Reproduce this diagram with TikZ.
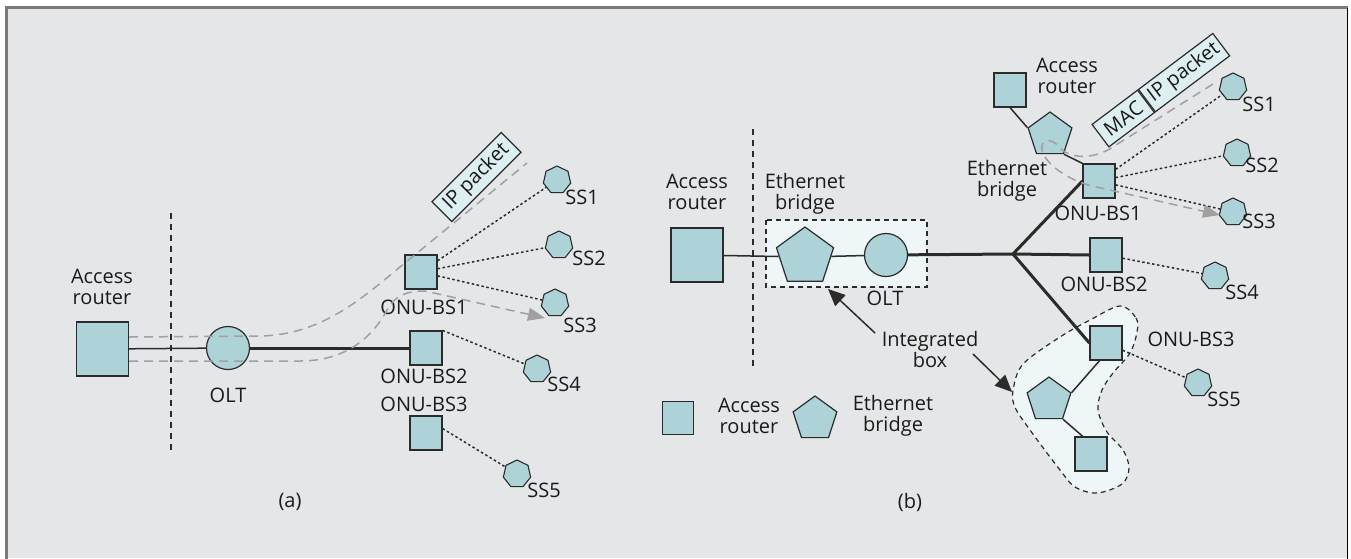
\documentclass[tikz,border=0pt]{standalone}
\usepackage{fontspec}
\setmainfont{Open Sans}
\usetikzlibrary{shapes.geometric,arrows.meta,calc}
\definecolor{bg}{HTML}{E5E6E8}
\definecolor{nodefill}{HTML}{ADD3D8}
\definecolor{edge}{HTML}{2B2B2B}
\definecolor{txt}{HTML}{1A1A1A}
\definecolor{pktfill}{HTML}{DDEFF1}
\definecolor{intfill}{HTML}{EEF6F8}
\definecolor{pathgray}{HTML}{A0A0A0}
\definecolor{framegray}{HTML}{7A7A7A}
\begin{document}
\begin{tikzpicture}[x=1pt,y=-1pt,
  font=\fontsize{20}{21}\selectfont,
  every node/.style={text=txt},
  sq/.style={draw=edge, fill=nodefill, line width=1.2pt, inner sep=0pt, minimum width=32pt, minimum height=34pt},
  bigsq/.style={sq, minimum width=52pt, minimum height=54pt},
  pent/.style={regular polygon, regular polygon sides=5, draw=edge, fill=nodefill, line width=1.2pt, inner sep=0pt, minimum size=46pt},
  bigpent/.style={pent, minimum size=60pt},
  hept/.style={regular polygon, regular polygon sides=7, draw=edge, fill=nodefill, line width=1.1pt, inner sep=0pt, minimum size=28pt},
  oltc/.style={circle, draw=edge, fill=nodefill, line width=1.2pt, inner sep=0pt, minimum size=43pt},
  lbl/.style={align=center, inner sep=0pt},
  pkt/.style={draw=edge, fill=pktfill, line width=1.2pt, minimum height=28pt, inner xsep=2pt, inner ysep=0pt},
  thinln/.style={draw=edge, line width=1.5pt},
  thickln/.style={draw=edge, line width=3pt},
  dotln/.style={draw=edge, line width=1.5pt, dash pattern=on 2.5pt off 2.5pt},
  sepln/.style={draw=edge, line width=1.3pt, dash pattern=on 6pt off 5pt},
  graypath/.style={draw=pathgray, line width=1.5pt, dash pattern=on 9pt off 6pt},
  grayarrow/.style={graypath, -{Triangle[length=17pt,width=13pt,fill=pathgray]}},
  blkarrow/.style={draw=edge, line width=1.5pt, -{Triangle[length=17pt,width=15pt]}}
]
\useasboundingbox (0,0) rectangle (1351,558);
% frame
\fill[white] (0,0) rectangle (1351,558);
\fill[bg] (6.5,7.5) rectangle (1347.5,558);
\draw[framegray, line width=2.5pt] (6.5,560) -- (6.5,7.5) -- (1347.5,7.5);
\draw[black, line width=1.5pt] (1347.5,7.5) -- (1347.5,560);

% ================= (a) =================
\draw[sepln] (171,213) -- (171,453);
\node[bigsq] (ar1) at (102.5,349) {};
\node[oltc] (olt1) at (228,348) {};
\node[sq] (onu11) at (421,272) {};
\node[sq] (onu12) at (426,348) {};
\node[sq] (onu13) at (426,433) {};
\node[hept] (ss11) at (557,180) {};
\node[hept] (ss12) at (559,245) {};
\node[hept] (ss13) at (555,303) {};
\node[hept] (ss14) at (537,369) {};
\node[hept] (ss15) at (517,474) {};
\node[pkt, rotate=45, minimum width=98pt] (pkt1) at (476.5,177) {IP packet};

\node[lbl] (lar1) at (102,287) {Access\\router};
\node[lbl] (lolt1) at (228,395) {OLT};
\node[lbl] (lonu11) at (424,307) {ONU-BS1};
\node[lbl] (lonu12) at (424,376) {ONU-BS2};
\node[lbl] (lonu13) at (424,404) {ONU-BS3};
\node[lbl] (lss11) at (582,197) {SS1};
\node[lbl] (lss12) at (589,258) {SS2};
\node[lbl] (lss13) at (580,325) {SS3};
\node[lbl] (lss14) at (564,384) {SS4};
\node[lbl] (lss15) at (544,490) {SS5};
\node[lbl] (capa) at (290,502) {(a)};

\draw[thinln] (ar1) -- (olt1);
\draw[thickln] (olt1) -- (onu12);
\draw[dotln] (onu11) -- (ss11);
\draw[dotln] (onu11) -- (ss12);
\draw[dotln] (onu11) -- (ss13);
\draw[dotln] (onu12.north east) -- (ss14);
\draw[dotln] (onu13.15) -- (ss15);

\coordinate (ga1) at (527,163);
\coordinate (ga2) at (545,318);
\draw[graypath] (ar1.east |- 0,337) -- (262,336) .. controls (320,334) and (358,302) .. (400,267) -- (ga1);
\draw[grayarrow] (ar1.east |- 0,361) -- (300,361) .. controls (345,361) and (372,338) .. (387,310)
   .. controls (395,296) and (405,291) .. (425,291) -- (ga2);

% ================= (b) =================
\draw[sepln] (753,129) -- (753,367);
\fill[intfill] (766,220) rectangle (927,287);
\draw[draw=edge, line width=1.2pt, dash pattern=on 5pt off 4pt] (766,220) rectangle (927,287);
\filldraw[fill=intfill, draw=edge, line width=1.2pt, dash pattern=on 5pt off 4pt]
  plot[smooth cycle, tension=0.55] coordinates {(1120,306) (1136,318) (1137,332) (1130,353) (1113,373) (1102,390) (1098,410) (1107,432) (1123,450) (1129,468) (1122,484) (1097,493) (1075,487) (1060,470) (1030,430) (1014,405) (1014,385) (1024,363) (1060,337) (1090,320)};

\node[bigsq] (ar2) at (697,255) {};
\node[bigpent] (pb2) at (805,257) {};
\node[oltc] (olt2) at (886,255) {};
\coordinate (jn) at (1013,254);
\node[sq] (onu21) at (1099,181) {};
\node[sq] (onu22) at (1106,255) {};
\node[sq] (onu23) at (1106,343) {};
\node[sq] (ar3) at (1010,90) {};
\node[pent] (pb3) at (1050,135) {};
\node[pent] (pb4) at (1049,400) {};
\node[sq] (ar4) at (1091,454) {};
\node[hept] (ss21) at (1233,87) {};
\node[hept] (ss22) at (1237,153) {};
\node[hept] (ss23) at (1233,212) {};
\node[hept] (ss24) at (1215,276) {};
\node[hept] (ss25) at (1198,383) {};
\node[sq, minimum width=31pt, minimum height=33pt] (lsq) at (678,418) {};
\node[pent] (lpent) at (815,419) {};

\node[pkt, rotate=37, anchor=west, minimum width=57pt] (mac) at (1100,136) {MAC};
\node[pkt, rotate=37, anchor=west, minimum width=93pt] (ip2) at (mac.east) {IP packet};

\node[lbl] (lar2) at (697,192) {Access\\router};
\node[lbl] (lpb2) at (805,194) {Ethernet\\bridge};
\node[lbl] (lolt2) at (885,298) {OLT};
\node[lbl] (lint) at (930,349) {Integrated\\box};
\node[lbl] (lar3) at (1067,76) {Access\\router};
\node[lbl] (lpb3) at (1007,181) {Ethernet\\bridge};
\node[lbl] (lonu21) at (1098,213) {ONU-BS1};
\node[lbl] (lonu22) at (1104,284) {ONU-BS2};
\node[lbl] (lonu23) at (1191,339) {ONU-BS3};
\node[lbl] (lss21) at (1259,104) {SS1};
\node[lbl] (lss22) at (1262,165) {SS2};
\node[lbl] (lss23) at (1259,221) {SS3};
\node[lbl] (lss24) at (1242,292) {SS4};
\node[lbl] (lss25) at (1224,399) {SS5};
\node[lbl] (llsq) at (749,416) {Access\\router};
\node[lbl] (llpent) at (893,416) {Ethernet\\bridge};
\node[lbl] (capb) at (910,502) {(b)};

\draw[thinln] (ar2) -- (pb2);
\draw[thinln] (pb2) -- (olt2);
\draw[thickln, line join=round] (olt2) -- (jn);
\draw[thickln, line join=round] (jn) -- (onu21.west);
\draw[thickln, line join=round] (jn) -- (onu22.west);
\draw[thickln, line join=round] (jn) -- (onu23.west);
\draw[thinln] (ar3.south) -- (pb3.corner 2);
\draw[thinln] (pb3.corner 4) -- (onu21.north west);
\draw[thinln] (onu23.250) -- (pb4.corner 5);
\draw[thinln] (pb4.corner 4) -- (ar4.115);
\draw[dotln] (onu21) -- (ss21);
\draw[dotln] (onu21) -- (ss22);
\draw[dotln] (onu21) -- (ss23);
\draw[dotln] (onu22) -- (ss24);
\draw[dotln] (onu23) -- (ss25);

\coordinate (ib1) at (828,289);
\coordinate (ib2) at (1012,392);
\coordinate (ia1) at (875,333);
\coordinate (ia2) at (973,354);
\draw[blkarrow] (ia1) -- (ib1);
\draw[blkarrow] (ia2) -- (ib2);

\coordinate (gb1) at (1213,84);
\coordinate (gb2) at (1220,215);
\draw[grayarrow] (gb1) -- (1108,150) .. controls (1088,160) and (1068,158) .. (1058,146)
   .. controls (1052,138) and (1040,139) .. (1042,150) .. controls (1045,164) and (1068,180) .. (1092,186) -- (gb2);
\end{tikzpicture}
\end{document}
